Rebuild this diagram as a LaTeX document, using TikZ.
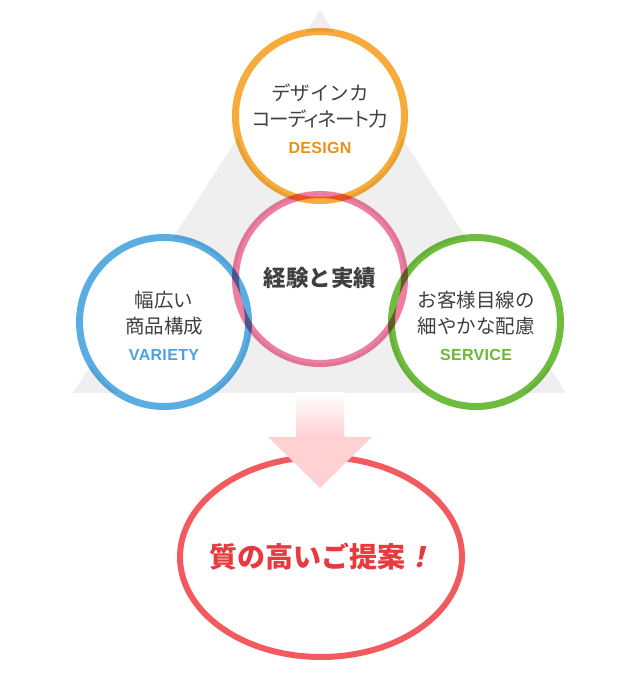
\documentclass[tikz,border=0pt]{standalone}
\usepackage{fontspec}
\newfontfamily\jp{Noto Sans CJK JP}
\newfontfamily\jpp[RawFeature=+palt, LetterSpace=-5]{Noto Sans CJK JP}
\newfontfamily\jpslant[FakeSlant=0.22]{Noto Sans CJK JP Bold}
\newfontfamily\en[LetterSpace=2]{Liberation Sans}
\newcommand\entx{\en\bfseries\fontsize{16}{18}\selectfont}
\definecolor{tri}{HTML}{EFEFEF}
\definecolor{cOrange}{HTML}{F7AB3A}
\definecolor{cPink}{HTML}{EE7DA0}
\definecolor{cBlue}{HTML}{5AADE3}
\definecolor{cGreen}{HTML}{6EBD3E}
\definecolor{cRed}{HTML}{F25A5F}
\definecolor{cArrow}{HTML}{FFD1D3}
\definecolor{tOrange}{HTML}{E8921B}
\definecolor{tBlue}{HTML}{4AA3DF}
\definecolor{tGreen}{HTML}{6AB932}
\definecolor{tRed}{HTML}{E63A3F}
\definecolor{tGray}{HTML}{404040}
\tikzset{
  ring/.style={line width=7pt},
  cjktext/.style={align=center, text=tGray, font=\jp\fontsize{19.5}{26}\selectfont, inner sep=0pt},
}
\begin{document}
\begin{tikzpicture}[x=1pt,y=1pt]
\useasboundingbox (0,0) rectangle (640,675);
% triangle
\fill[tri] (320,665) -- (73,282) -- (566,282) -- cycle;
% circle centres
\coordinate (cD) at (320,559);
\coordinate (cE) at (320,396);
\coordinate (cV) at (164,353);
\coordinate (cS) at (476,353);
% white fills
\foreach \c in {cD,cE,cV,cS} \fill[white] (\c) circle (84.5);
% rings
\begin{scope}[blend mode=multiply]
\draw[ring, cOrange] (cD) circle (84.5);
\draw[ring, cPink] (cE) circle (84.5);
\draw[ring, cBlue] (cV) circle (84.5);
\draw[ring, cGreen] (cS) circle (84.5);
\end{scope}
% texts
\node[cjktext] (tD) at (320,556) {デザインカ\\{\jpp コーディネート力}\\[1pt]{\entx\color{tOrange}DESIGN}};
\node[cjktext, font=\jp\bfseries\fontsize{22.5}{26}\selectfont] (tE) at (320,397) {経験と実績};
\node[cjktext] (tV) at (164,349) {幅広い\\商品構成\\[1pt]{\entx\color{tBlue}VARIETY}};
\node[cjktext] (tS) at (476,349) {お客様目線の\\細やかな配慮\\[1pt]{\entx\color{tGreen}SERVICE}};
% result ellipse
\fill[white] (321,118) ellipse [x radius=141, y radius=100];
\draw[cRed, line width=6pt] (321,118) ellipse [x radius=141, y radius=100];
\node[inner sep=0pt, text=tRed, font=\jp\bfseries\fontsize{28}{30}\selectfont] (tR) at (321,118) {質の高いご提案{\jpslant ！}};
% arrow
\shade[top color=white, bottom color=cArrow] (296,282) rectangle (344,238);
\fill[cArrow] (268,238) -- (372,238) -- (320,187) -- cycle;
\end{tikzpicture}
\end{document}
